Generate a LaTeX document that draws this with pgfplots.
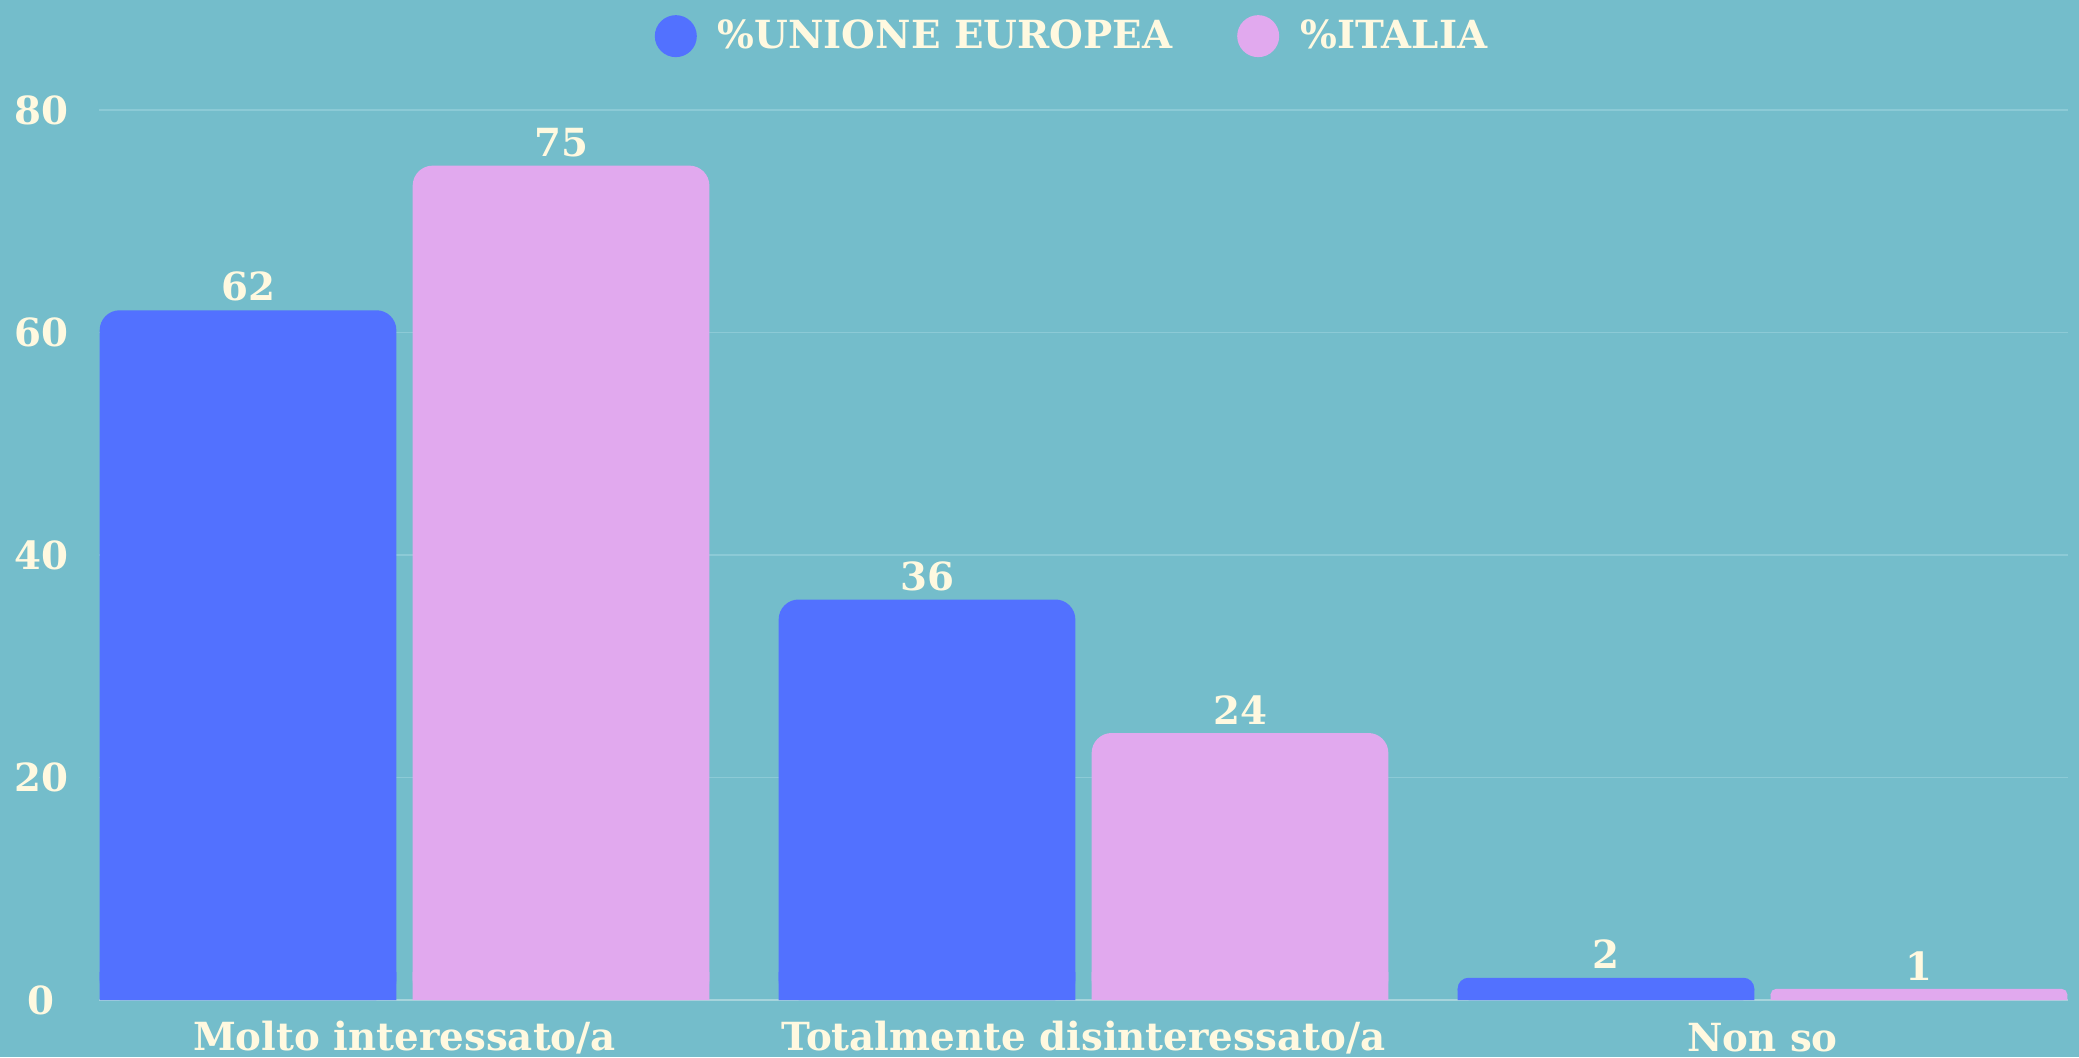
\documentclass[border=0pt]{standalone}
\usepackage{fontspec}
\usepackage{pgfplots}
\pgfplotsset{compat=1.18}
\newfontfamily\cf{DejaVu Serif}
\definecolor{bg}{HTML}{74BDCB}
\definecolor{eublue}{HTML}{5271FF}
\definecolor{itpink}{HTML}{E1A9EE}
\definecolor{cream}{HTML}{FFF9E0}
\definecolor{gridc}{HTML}{8CCAD6}
\definecolor{basec}{HTML}{A6D4DC}
\newcommand{\lf}{\cf\bfseries\fontsize{15.5}{18}\selectfont}
\begin{document}
\begin{tikzpicture}
\useasboundingbox (-39.6pt,-22.8pt) rectangle (792pt,400pt);
\fill[bg] (-39.6pt,-22.8pt) rectangle (792pt,400pt);
\begin{axis}[
  scale only axis,
  width=787.6pt, height=356pt,
  xmin=-0.45, xmax=2.45,
  ymin=0, ymax=80,
  xtick={0,1,2},
  xticklabels={Molto interessato/a, Totalmente disinteressato/a, Non so},
  ytick={0,20,40,60,80},
  extra y ticks={0},
  extra y tick labels={},
  extra y tick style={grid style={color=basec, line width=0.9pt}},
  ymajorgrids,
  grid style={color=gridc, line width=0.5pt},
  axis line style={draw=none},
  major tick length=0pt,
  /pgf/number format/assume math mode=true,
  tick label style={font=\lf, text=cream},
  yticklabel style={anchor=center, xshift=-23.2pt},
  xticklabel style={anchor=center, yshift=-15pt},
  legend style={at={(0.4937,1.083)}, anchor=center, draw=none, fill=none,
    font=\lf, text=cream, legend columns=2,
    nodes={inner sep=0pt},
    /tikz/every odd column/.append style={column sep=8.4pt},
    /tikz/every even column/.append style={column sep=26pt}},
  every node near coord/.append style={font=\lf, text=cream, anchor=south, yshift=0pt},
]
\addplot[ybar, bar width=0.437, bar shift=0pt, fill=eublue, draw=none,
  rounded corners=8pt, nodes near coords,
  legend image code/.code={\fill[eublue] (0pt,0pt) circle (8.4pt);}]
  coordinates {(-0.2305,62) (0.7695,36)};
\addlegendentry{\%UNIONE EUROPEA}
\addplot[ybar, bar width=0.437, bar shift=0pt, fill=itpink, draw=none,
  rounded corners=8pt, nodes near coords,
  legend image code/.code={\fill[itpink] (0pt,0pt) circle (8.4pt);}]
  coordinates {(0.2305,75) (1.2305,24)};
\addlegendentry{\%ITALIA}
\addplot[forget plot, ybar, bar width=0.437, bar shift=0pt, fill=eublue, draw=none,
  rounded corners=4.4pt, nodes near coords]
  coordinates {(1.7695,2)};
\addplot[forget plot, ybar, bar width=0.437, bar shift=0pt, fill=itpink, draw=none,
  rounded corners=2.2pt, nodes near coords]
  coordinates {(2.2305,1)};
\addplot[forget plot, ybar, bar width=0.437, bar shift=0pt, fill=eublue, draw=none]
  coordinates {(-0.2305,2.5) (0.7695,2.5) (1.7695,1)};
\addplot[forget plot, ybar, bar width=0.437, bar shift=0pt, fill=itpink, draw=none]
  coordinates {(0.2305,2.5) (1.2305,2.5) (2.2305,0.5)};
\end{axis}
\end{tikzpicture}
\end{document}
